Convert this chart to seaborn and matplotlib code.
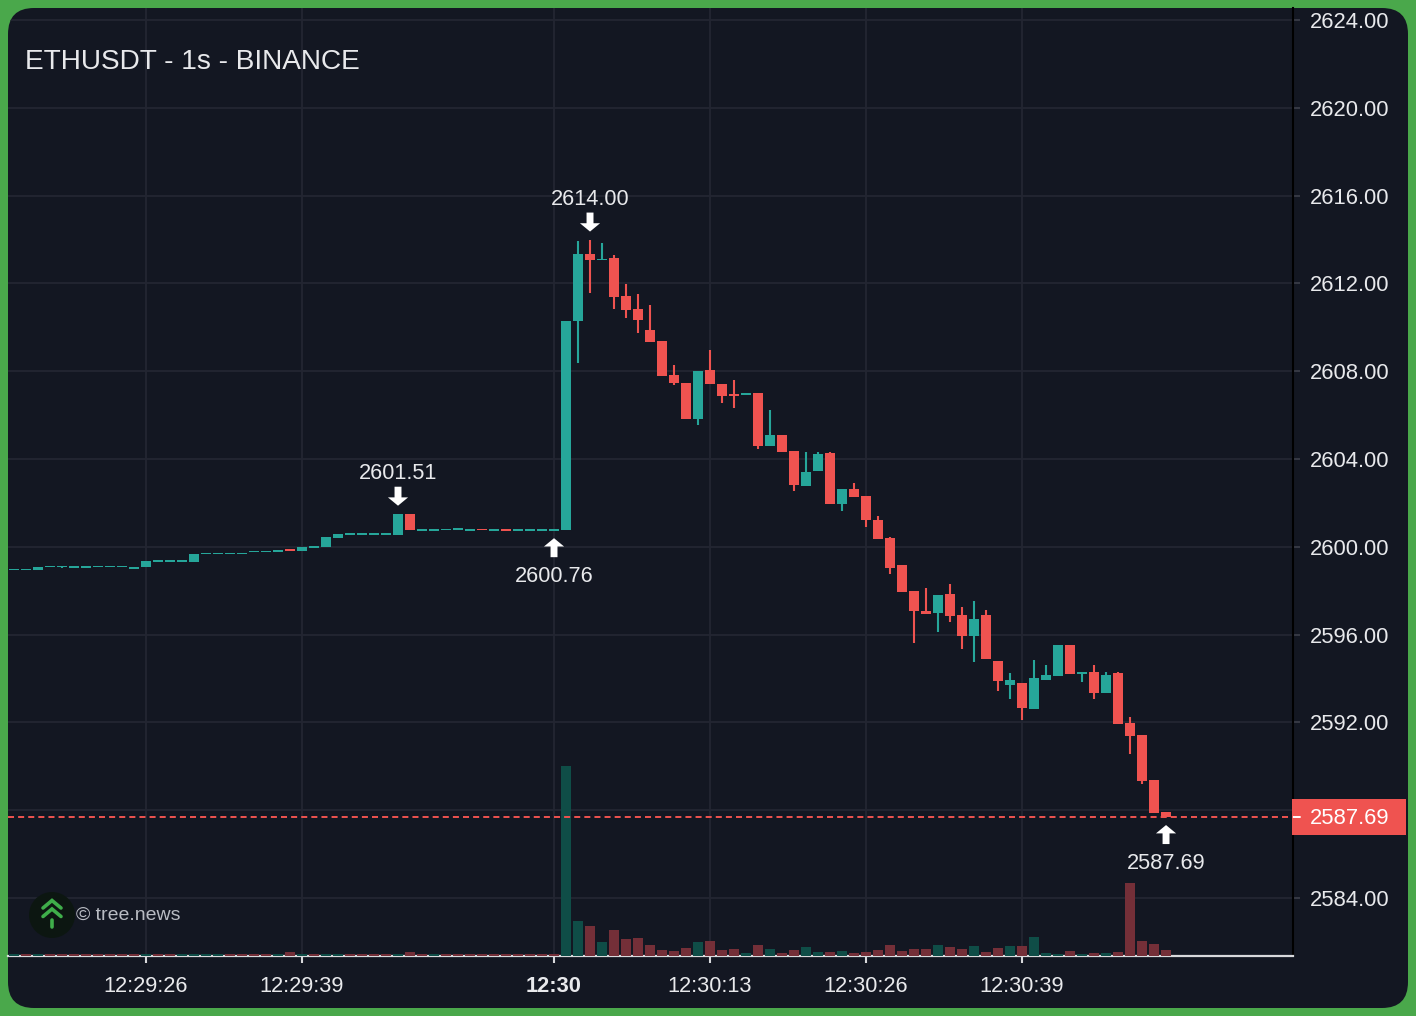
import numpy as np
import pandas as pd
import matplotlib
matplotlib.use("Agg")
import matplotlib.pyplot as plt
import matplotlib.patches as mpatches
import matplotlib.transforms as mtransforms
from matplotlib.lines import Line2D
import seaborn as sns

# ---- data: 1s candles, seconds relative to 12:30:00
secs = list(range(-45, 52))

opens = [2598.97, 2598.97, 2598.93, 2599.10, 2599.11, 2599.08, 2599.08, 2599.11, 2599.11, 2599.11,
         2599.04, 2599.10, 2599.35, 2599.35, 2599.35, 2599.31, 2599.70, 2599.70, 2599.70, 2599.70,
         2599.79, 2599.79, 2599.80, 2599.86, 2599.80, 2599.98, 2599.98, 2600.42, 2600.58, 2600.58,
         2600.58, 2600.58, 2600.55, 2601.49, 2600.77, 2600.77, 2600.78, 2600.80, 2600.77, 2600.82,
         2600.77, 2600.79, 2600.77, 2600.77, 2600.77, 2600.77,
         2600.77, 2610.28, 2613.34, 2613.07, 2613.17, 2611.43, 2610.83, 2609.88, 2609.38, 2607.83,
         2607.45, 2605.82, 2608.05, 2607.42, 2606.95, 2606.90, 2607.02, 2604.59, 2605.09, 2604.36,
         2602.77, 2603.47, 2604.27, 2601.95, 2602.63, 2602.31, 2601.22, 2600.40, 2599.17, 2597.99,
         2597.09, 2597.00, 2597.85, 2596.89, 2595.95, 2596.89, 2594.80, 2593.72, 2593.80, 2592.63,
         2593.93, 2594.11, 2595.53, 2594.20, 2594.29, 2593.34, 2594.25, 2591.97, 2591.43, 2589.38, 2587.92]

highs = [2598.97, 2598.97, 2599.08, 2599.11, 2599.11, 2599.08, 2599.08, 2599.11, 2599.11, 2599.11,
         2599.04, 2599.35, 2599.35, 2599.35, 2599.35, 2599.67, 2599.70, 2599.70, 2599.70, 2599.70,
         2599.79, 2599.79, 2599.84, 2599.86, 2600.00, 2599.98, 2600.45, 2600.60, 2600.58, 2600.58,
         2600.58, 2600.58, 2601.51, 2601.49, 2600.77, 2600.77, 2600.81, 2600.80, 2600.77, 2600.82,
         2600.77, 2600.79, 2600.77, 2600.77, 2600.77, 2600.77,
         2610.30, 2613.95, 2614.00, 2613.85, 2613.29, 2611.97, 2611.52, 2611.02, 2609.38, 2608.28,
         2607.45, 2608.01, 2608.97, 2607.42, 2607.60, 2607.00, 2607.02, 2606.23, 2605.09, 2604.36,
         2604.32, 2604.32, 2604.32, 2602.63, 2602.91, 2602.31, 2601.40, 2600.45, 2599.17, 2597.99,
         2598.12, 2597.80, 2598.31, 2597.27, 2597.53, 2597.12, 2594.80, 2594.25, 2593.80, 2594.84,
         2594.62, 2595.53, 2595.53, 2594.29, 2594.62, 2594.29, 2594.29, 2592.25, 2591.43, 2589.38, 2587.92]

lows = [2598.97, 2598.97, 2598.93, 2599.10, 2599.02, 2599.08, 2599.08, 2599.11, 2599.11, 2599.11,
        2599.04, 2599.10, 2599.35, 2599.35, 2599.35, 2599.31, 2599.70, 2599.70, 2599.70, 2599.70,
        2599.79, 2599.79, 2599.80, 2599.82, 2599.80, 2599.98, 2599.98, 2600.42, 2600.58, 2600.58,
        2600.58, 2600.58, 2600.55, 2600.78, 2600.77, 2600.77, 2600.78, 2600.80, 2600.77, 2600.77,
        2600.77, 2600.77, 2600.77, 2600.77, 2600.77, 2600.76,
        2600.77, 2608.39, 2611.58, 2613.07, 2610.83, 2610.44, 2609.75, 2609.34, 2607.80, 2607.37,
        2605.82, 2605.55, 2607.42, 2606.56, 2606.32, 2606.90, 2604.44, 2604.59, 2604.33, 2602.56,
        2602.77, 2603.47, 2601.95, 2601.65, 2602.27, 2600.92, 2600.37, 2598.76, 2597.96, 2595.63,
        2596.94, 2596.13, 2596.59, 2595.34, 2594.77, 2594.89, 2593.43, 2593.07, 2592.11, 2592.63,
        2593.93, 2594.11, 2594.20, 2593.84, 2593.07, 2593.34, 2591.93, 2590.56, 2589.19, 2587.89, 2587.69]

closes = [2598.97, 2598.97, 2599.08, 2599.11, 2599.11, 2599.08, 2599.08, 2599.11, 2599.11, 2599.11,
          2599.04, 2599.35, 2599.35, 2599.35, 2599.35, 2599.67, 2599.70, 2599.70, 2599.70, 2599.70,
          2599.79, 2599.79, 2599.84, 2599.82, 2600.00, 2599.98, 2600.45, 2600.60, 2600.58, 2600.58,
          2600.58, 2600.58, 2601.49, 2600.78, 2600.77, 2600.77, 2600.81, 2600.80, 2600.77, 2600.77,
          2600.77, 2600.77, 2600.77, 2600.77, 2600.77, 2600.77,
          2610.28, 2613.34, 2613.07, 2613.11, 2611.40, 2610.79, 2610.33, 2609.34, 2607.80, 2607.48,
          2605.82, 2608.01, 2607.42, 2606.87, 2606.90, 2607.00, 2604.59, 2605.09, 2604.33, 2602.82,
          2603.41, 2604.23, 2601.95, 2602.63, 2602.27, 2601.22, 2600.37, 2599.05, 2597.96, 2597.08,
          2596.94, 2597.80, 2596.85, 2595.95, 2596.71, 2594.89, 2593.89, 2593.93, 2592.67, 2594.02,
          2594.16, 2595.53, 2594.20, 2594.29, 2593.34, 2594.16, 2591.93, 2591.38, 2589.33, 2587.89, 2587.69]

volumes = [2, 2, 2, 2, 2, 2, 2, 2, 2, 2, 2, 2, 2, 2, 2, 2, 2, 2, 2, 2, 2, 2, 2, 4, 2,
           2, 2, 2, 2, 2, 2, 2, 2, 4, 2, 2, 2, 2, 2, 2, 2, 2, 2, 2, 2, 2,
           190, 35, 30, 14, 26, 17, 18, 11, 6, 5, 8, 14, 15, 6, 7, 3, 11, 7, 3, 6,
           9, 4, 4, 5, 3, 4, 6, 11, 5, 7, 7, 11, 9, 7, 10, 4, 8, 10, 10, 19,
           3, 2, 5, 2, 3, 3, 4, 73, 15, 12, 6]

# b = buy volume, s = sell volume
vol_side = list("bsbssssssssbssbbbbssssbsbsbbssssbssbssssssssss"
                "bbsbssssss" "sbsssbsbss" "bbsbssssss" "sbssbssbsb" "bbsbsbsssss")

tick_secs = [-34, -21, 0, 13, 26, 39]
tick_labels = ["12:29:26", "12:29:39", "12:30", "12:30:13", "12:30:26", "12:30:39"]
price_ticks = [2584, 2588, 2592, 2596, 2600, 2604, 2608, 2612, 2616, 2620, 2624]

df = pd.DataFrame({"sec": secs, "open": opens, "high": highs, "low": lows,
                   "close": closes, "volume": volumes,
                   "side": ["buy" if s == "b" else "sell" for s in vol_side]})

# ---- style
BG = "#131722"
GRID = "#232632"
UP = "#26a69a"
DOWN = "#ef5350"
VOL_UP = "#0f4d47"
VOL_DOWN = "#742f38"
TXT = "#e8e9ec"

sns.set_theme(style="dark")
plt.rcParams["font.family"] = ["Liberation Sans", "DejaVu Sans"]

W, H, DPI = 1416, 1016, 100
fig = plt.figure(figsize=(W / DPI, H / DPI), dpi=DPI, facecolor="#4aa84b")
# top-left pixel coords -> figure
px = mtransforms.Affine2D().scale(1 / DPI, -1 / DPI).translate(0, H / DPI) + fig.dpi_scale_trans

panel = mpatches.FancyBboxPatch((8, 8), 1400, 1000, boxstyle="round,pad=0,rounding_size=26",
                                transform=px, facecolor=BG, edgecolor="none", zorder=-10)
fig.patches.append(panel)

ax = fig.add_axes([8 / W, (H - 956) / H, 1285 / W, 948 / H])
ax.patch.set_visible(False)
ax2 = ax.twinx()
ax.yaxis.tick_right()

ymin, ymax = 2581.36, 2624.55
ax.set_ylim(ymin, ymax)

# candles
up = df["close"] >= df["open"]
colors = np.where(up, UP, DOWN)
body_lo = np.minimum(df["open"], df["close"])
body_h = (df["close"] - df["open"]).abs()
min_h = 0.08
body_lo = np.where(body_h < min_h, (df["open"] + df["close"]) / 2 - min_h / 2, body_lo)
body_h = np.maximum(body_h, min_h)
ax.vlines(df["sec"], df["low"], df["high"], colors=colors, lw=1.5, zorder=3)
ax.bar(df["sec"], body_h, bottom=body_lo, width=0.83, color=colors, linewidth=0, zorder=4)

# volume
sns.barplot(data=df, x="sec", y="volume", hue="side", palette={"buy": VOL_UP, "sell": VOL_DOWN},
            native_scale=True, dodge=False, saturation=1, width=0.83, errorbar=None,
            legend=False, ax=ax2, linewidth=0)
ax2.set_ylim(0, df["volume"].max() * 948 / 190)
ax2.set_yticks([])
ax2.set_ylabel("")
ax2.set_xlabel("")
for s in ax2.spines.values():
    s.set_visible(False)

ax.set_xlim(-45.5, 61.58)

last = df["close"].iloc[-1]

# axes styling
ax.set_xticks(tick_secs)
ax.set_xticklabels(tick_labels)
ax.set_yticks(price_ticks)
# the label under the last-price box is hidden, as in the chart
ax.set_yticklabels(["" if abs(p - last) < 1.5 else f"{p:.2f}" for p in price_ticks])
ax.set_xlabel("")
ax.set_ylabel("")
ax.grid(True, color=GRID, lw=1.3)
ax.set_axisbelow(True)
for gl in ax.get_xgridlines() + ax.get_ygridlines():
    gl.set_clip_path(panel)
for side in ["top", "left"]:
    ax.spines[side].set_visible(False)
ax.spines["right"].set_color("#000000")
ax.spines["right"].set_linewidth(1.5)
ax.spines["bottom"].set_color("#d8d9dc")
ax.spines["bottom"].set_linewidth(1.6)
ax.tick_params(axis="x", direction="out", length=5, width=1.5, color="#d8d9dc",
               labelsize=15.7, labelcolor=TXT, pad=9.5, bottom=True)
ax.tick_params(axis="y", direction="out", length=5, width=1.2, color="#3c3f4a",
               labelsize=15.8, labelcolor=TXT, pad=7, right=True, left=False)
ax.get_xticklabels()[2].set_fontweight("bold")

# last price line and label
ppu = 948 / (ymax - ymin)
blend2 = mtransforms.blended_transform_factory(ax2.transAxes, ax.transData)
ax2.add_artist(Line2D([0, 1], [last, last], transform=blend2, color=DOWN, lw=1.4,
                      linestyle=(0, (3.1, 2.1)), zorder=5))
blend = mtransforms.blended_transform_factory(ax.transAxes, ax.transData)
ax.add_patch(mpatches.Rectangle((1.0 - 1 / 1285, last - 18 / ppu), 114 / 1285, 36 / ppu,
                                transform=blend, facecolor=DOWN, edgecolor="none",
                                clip_on=False, zorder=10))
ax.add_line(Line2D([1.0, 1.0 + 7 / 1285], [last, last], transform=blend, color="white",
                   lw=1.4, clip_on=False, zorder=11))
ax.text(1.0, last, f"{last:.2f}", transform=mtransforms.offset_copy(blend, fig=fig, x=17, y=-1, units="dots"),
        ha="left", va="center", color="white", fontsize=15.8, zorder=12, clip_on=False)


def mark(sec, price, above):
    sign = 1 if above else -1
    tip = mtransforms.offset_copy(ax.transData, fig=fig, x=0, y=8 * sign, units="dots")
    ax.annotate("", xy=(sec, price), xycoords=tip, xytext=(0, 19 * sign), textcoords="offset pixels",
                arrowprops=dict(facecolor="white", edgecolor="none", width=5, headwidth=14.5,
                                headlength=6, shrink=0), zorder=8)
    ax.annotate(f"{price:.2f}", xy=(sec, price), xytext=(0, 40 if above else -46),
                textcoords="offset pixels", ha="center", va="center", color=TXT,
                fontsize=15.7, zorder=8)


mark(3, df["high"].iloc[48], True)
mark(-13, df["high"].iloc[32], True)
mark(0, df["low"].iloc[45], False)
mark(51, df["low"].iloc[96], False)

# title and watermark
fig.text(25, 62, "ETHUSDT - 1s - BINANCE", transform=px, ha="left", va="center",
         fontsize=20.2, color=TXT, zorder=20)
fig.patches.append(mpatches.Circle((52, 915), 23, transform=px, facecolor="#0c1611",
                                   edgecolor="none", zorder=20))
for dy in (0, 8.5):
    fig.lines.append(Line2D([43, 52, 61], [908 + dy, 900.5 + dy, 908 + dy], transform=px,
                            color="#3fae4a", lw=2.6, zorder=21, solid_joinstyle="miter"))
fig.lines.append(Line2D([52, 52], [920, 927], transform=px, color="#3fae4a", lw=2.6, zorder=21))
fig.text(76, 915, "\u00a9 tree.news", transform=px, ha="left", va="center",
         fontsize=14, color="#b9bcc3", zorder=20)

fig.savefig("out.png", dpi=DPI, facecolor=fig.get_facecolor())
